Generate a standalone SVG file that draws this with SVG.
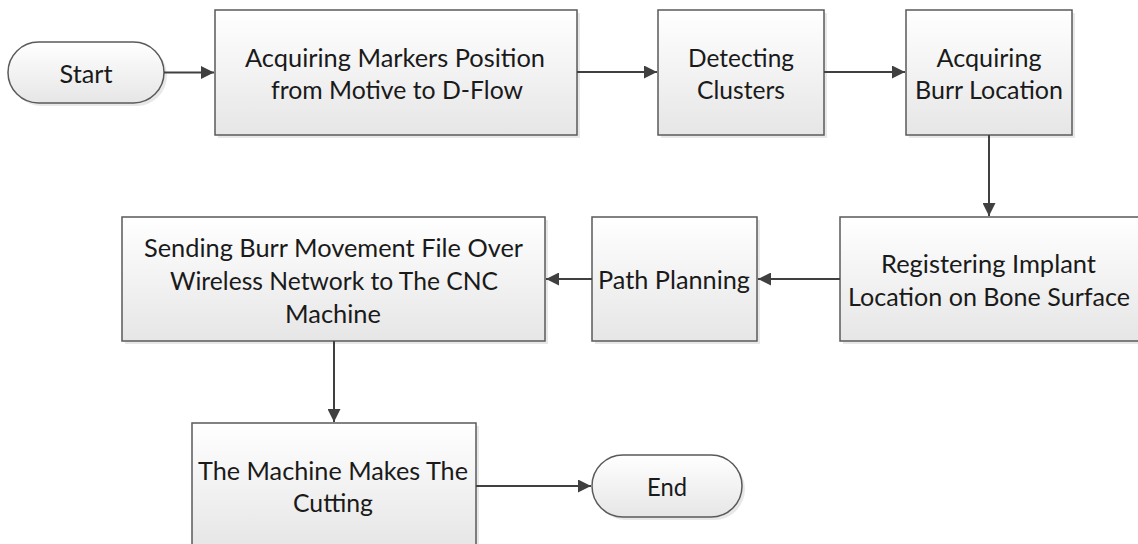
<svg xmlns="http://www.w3.org/2000/svg" width="1138" height="544" viewBox="0 0 1138 544">
<defs>
<linearGradient id="g" x1="0" y1="0" x2="0" y2="1">
<stop offset="0" stop-color="#ffffff"/>
<stop offset="1" stop-color="#e6e6e6"/>
</linearGradient>
<marker id="ah" viewBox="0 0 13 13" refX="13" refY="6.5" markerWidth="13" markerHeight="13" markerUnits="userSpaceOnUse" orient="auto">
<path d="M0,0 L13,6.5 L0,13 Z" fill="#404040"/>
</marker>
</defs>
<style>
.box{fill:url(#g);stroke:#5a5a5a;stroke-width:1.5}
.sh{fill:#d9d9d9;opacity:0.6}
.t{font-family:Lato,"Liberation Sans",Arial,sans-serif;font-size:25.4px;fill:#1a1a1a;text-anchor:middle;dominant-baseline:central}
.c{fill:none;stroke:#404040;stroke-width:2;marker-end:url(#ah)}
</style>
<rect width="1138" height="544" fill="#ffffff"/>
<g id="start">
<rect class="sh" x="11" y="45" width="156" height="61" rx="30.5"/>
<rect class="box" x="8" y="42" width="156" height="61" rx="30.5"/>
<text class="t" x="86" y="72.5" textLength="53" lengthAdjust="spacingAndGlyphs">Start</text>
</g>
<g id="acq-markers">
<rect class="sh" x="218" y="13" width="362" height="125"/>
<rect class="box" x="215" y="10" width="362" height="125"/>
<text class="t" x="395" y="57" textLength="300" lengthAdjust="spacingAndGlyphs">Acquiring Markers Position</text>
<text class="t" x="397" y="89" textLength="252" lengthAdjust="spacingAndGlyphs">from Motive to D-Flow</text>
</g>
<g id="detecting">
<rect class="sh" x="661" y="13" width="166" height="125"/>
<rect class="box" x="658" y="10" width="166" height="125"/>
<text class="t" x="741" y="57" textLength="106" lengthAdjust="spacingAndGlyphs">Detecting</text>
<text class="t" x="741" y="89" textLength="88" lengthAdjust="spacingAndGlyphs">Clusters</text>
</g>
<g id="acq-burr">
<rect class="sh" x="909" y="13" width="166" height="125"/>
<rect class="box" x="906" y="10" width="166" height="125"/>
<text class="t" x="989" y="57" textLength="105" lengthAdjust="spacingAndGlyphs">Acquiring</text>
<text class="t" x="989" y="89" textLength="148" lengthAdjust="spacingAndGlyphs">Burr Location</text>
</g>
<g id="registering">
<rect class="sh" x="843" y="220" width="300" height="124"/>
<rect class="box" x="840" y="217" width="300" height="124"/>
<text class="t" x="988.5" y="263" textLength="215" lengthAdjust="spacingAndGlyphs">Registering Implant</text>
<text class="t" x="989" y="296" textLength="282" lengthAdjust="spacingAndGlyphs">Location on Bone Surface</text>
</g>
<g id="path-planning">
<rect class="sh" x="595" y="220" width="165" height="124"/>
<rect class="box" x="592" y="217" width="165" height="124"/>
<text class="t" x="674" y="279" textLength="152" lengthAdjust="spacingAndGlyphs">Path Planning</text>
</g>
<g id="sending">
<rect class="sh" x="125" y="220" width="423" height="124"/>
<rect class="box" x="122" y="217" width="423" height="124"/>
<text class="t" x="333.5" y="247" textLength="379" lengthAdjust="spacingAndGlyphs">Sending Burr Movement File Over</text>
<text class="t" x="334" y="280" textLength="328" lengthAdjust="spacingAndGlyphs">Wireless Network to The CNC</text>
<text class="t" x="333" y="313" textLength="96" lengthAdjust="spacingAndGlyphs">Machine</text>
</g>
<g id="machine">
<rect class="sh" x="195" y="426" width="284" height="124"/>
<rect class="box" x="192" y="423" width="284" height="124"/>
<text class="t" x="333" y="470" textLength="270" lengthAdjust="spacingAndGlyphs">The Machine Makes The</text>
<text class="t" x="333" y="502" textLength="80" lengthAdjust="spacingAndGlyphs">Cutting</text>
</g>
<g id="end">
<rect class="sh" x="595" y="458" width="150" height="62" rx="31"/>
<rect class="box" x="592" y="455" width="150" height="62" rx="31"/>
<text class="t" x="667" y="486" textLength="40" lengthAdjust="spacingAndGlyphs">End</text>
</g>
<g id="connectors">
<line class="c" x1="164" y1="72.5" x2="214" y2="72.5"/>
<line class="c" x1="577" y1="72" x2="657" y2="72"/>
<line class="c" x1="824" y1="72" x2="905" y2="72"/>
<line class="c" x1="989" y1="135" x2="989" y2="216"/>
<line class="c" x1="840" y1="279" x2="758" y2="279"/>
<line class="c" x1="592" y1="279" x2="546" y2="279"/>
<line class="c" x1="334" y1="341" x2="334" y2="422"/>
<line class="c" x1="476" y1="486" x2="591" y2="486"/>
</g>
</svg>
